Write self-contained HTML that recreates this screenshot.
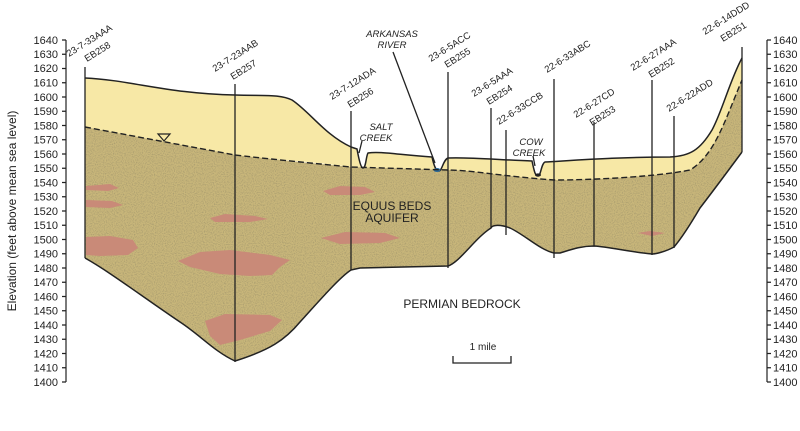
<!DOCTYPE html>
<html><head><meta charset="utf-8"><style>
html,body{margin:0;padding:0;background:#fff;}
svg{display:block;font-family:"Liberation Sans",sans-serif;}
</style></head><body>
<svg width="800" height="431" viewBox="0 0 800 431" xmlns="http://www.w3.org/2000/svg">
<defs>
<filter id="spk" x="0" y="0" width="100%" height="100%">
<feTurbulence type="fractalNoise" baseFrequency="0.9" numOctaves="1" seed="3" result="n"/>
<feColorMatrix in="n" type="matrix" values="0 0 0 0 0.35  0 0 0 0 0.3  0 0 0 0 0.15  0 0 0 -2.2 1.25" result="d"/>
<feComposite in="d" in2="SourceGraphic" operator="in" result="dd"/>
<feMerge><feMergeNode in="SourceGraphic"/><feMergeNode in="dd"/></feMerge>
</filter>
</defs>

<!-- unsaturated zone -->
<path d="M85,78 C130,80 170,94 235,95 C265,96 280,94 292,100 C310,112 325,135 351,147 L357,149 C359,160 361,168 363,168 C366,168 366,156 368,153 C380,151 400,155 432,157 C434,166 436,171 439,171 C442,171 443,160 448,158 C470,157 500,160 532,161 C534,170 535,176 538,176 C541,176 541,164 545,162 C580,160 620,157 670,157 C690,156 700,150 712,130 C722,112 730,80 742,58 L742,80 C725,120 715,155 690,170 C660,176 600,180 554,180 C500,176 470,170 448,170 L351,167 C300,160 250,158 235,155 L85,127 Z" fill="#f7e8a6" stroke="none"/>

<!-- aquifer -->
<path d="M85,127 L235,155 C260,158 300,162 351,167 L448,170 C470,170 500,176 554,180 C600,180 660,176 690,170 C715,155 725,120 742,80 L742,152 C725,175 710,195 700,208 C690,225 680,240 674,247 C665,252 655,254 652,254 C630,252 610,247 594,246 C580,246 570,250 560,253 L554,253 C540,250 525,235 510,228 C500,224 492,225 491,228 C475,238 460,262 448,266 L360,268 L351,270 C340,277 320,300 300,322 C285,340 270,350 235,361 C215,352 200,335 180,322 C140,295 110,272 85,258 Z" fill="#c8b67a" filter="url(#spk)"/>

<!-- clay lenses -->
<g fill="#c98a78">
<path d="M86,186 L110,184 L119,188 L108,191 L86,190 Z"/>
<path d="M86,200 L112,201 L123,205 L110,208 L86,207 Z"/>
<path d="M86,237 L110,236 L133,240 L138,248 L128,255 L100,256 L86,255 Z"/>
<path d="M210,218 L225,214 L255,216 L268,219 L250,222 L215,222 Z"/>
<path d="M178,261 L200,252 L230,250 L270,255 L290,260 L280,267 L272,275 L250,276 L220,274 L190,267 Z"/>
<path d="M205,321 L225,314 L270,315 L282,320 L270,331 L240,340 L220,345 L210,336 Z"/>
<path d="M323,191 L340,186 L365,187 L375,192 L360,195 L330,195 Z"/>
<path d="M321,238 L345,232 L385,233 L400,238 L380,243 L340,244 Z"/>
<path d="M638,233 L650,231 L665,233 L652,236 Z"/>
</g>

<!-- land surface line -->
<path d="M85,78 C130,80 170,94 235,95 C265,96 280,94 292,100 C310,112 325,135 351,147 L357,149 C359,160 361,168 363,168 C366,168 366,156 368,153 C380,151 400,155 432,157 C434,166 436,171 439,171 C442,171 443,160 448,158 C470,157 500,160 532,161 C534,170 535,176 538,176 C541,176 541,164 545,162 C580,160 620,157 670,157 C690,156 700,150 712,130 C722,112 730,80 742,58" fill="none" stroke="#222" stroke-width="1.5"/>
<ellipse cx="437" cy="170" rx="3.5" ry="2" fill="#2a6a9a"/>
<ellipse cx="538" cy="175" rx="3" ry="1.6" fill="#222"/>
<!-- water table -->
<path d="M85,127 L235,155 C260,158 300,162 351,167 L448,170 C470,170 500,176 554,180 C600,180 660,176 690,170 C715,155 725,120 742,80" fill="none" stroke="#222" stroke-width="1.4" stroke-dasharray="6,3"/>
<!-- bedrock line -->
<path d="M742,152 C725,175 710,195 700,208 C690,225 680,240 674,247 C665,252 655,254 652,254 C630,252 610,247 594,246 C580,246 570,250 560,253 L554,253 C540,250 525,235 510,228 C500,224 492,225 491,228 C475,238 460,262 448,266 L360,268 L351,270 C340,277 320,300 300,322 C285,340 270,350 235,361 C215,352 200,335 180,322 C140,295 110,272 85,258" fill="none" stroke="#222" stroke-width="1.5"/>
<!-- water table symbol -->
<path d="M158,134 L170,134 L164,141 Z" fill="none" stroke="#222" stroke-width="1.2"/>

<!-- wells -->
<g stroke="#222" stroke-width="1.3">
<line x1="85" y1="67" x2="85" y2="258"/>
<line x1="235" y1="84" x2="235" y2="362"/>
<line x1="351" y1="111" x2="351" y2="270"/>
<line x1="448" y1="72" x2="448" y2="268"/>
<line x1="491" y1="108" x2="491" y2="228"/>
<line x1="506" y1="130" x2="506" y2="235"/>
<line x1="554" y1="79" x2="554" y2="258"/>
<line x1="594" y1="122" x2="594" y2="246"/>
<line x1="652" y1="80" x2="652" y2="255"/>
<line x1="674" y1="116" x2="674" y2="248"/>
<line x1="742" y1="47" x2="742" y2="152"/>
<line x1="393" y1="52" x2="435" y2="163"/>
<line x1="362" y1="141" x2="359" y2="153"/>
<line x1="533" y1="156" x2="535" y2="166"/>
</g>

<!-- well labels -->
<g font-size="9.5" fill="#222">
<text transform="translate(69,57) rotate(-32)">23-7-33AAA</text>
<text transform="translate(87,62) rotate(-32)">EB258</text>
<text transform="translate(215,72) rotate(-32)">23-7-23AAB</text>
<text transform="translate(233,80) rotate(-32)">EB257</text>
<text transform="translate(332,100) rotate(-32)">23-7-12ADA</text>
<text transform="translate(350,108) rotate(-32)">EB256</text>
<text transform="translate(431,62) rotate(-32)">23-6-5ACC</text>
<text transform="translate(447,68) rotate(-32)">EB255</text>
<text transform="translate(474,97) rotate(-32)">23-6-5AAA</text>
<text transform="translate(489,105) rotate(-32)">EB254</text>
<text transform="translate(499,125) rotate(-32)">22-6-33CCB</text>
<text transform="translate(547,73) rotate(-32)">22-6-33ABC</text>
<text transform="translate(576,118) rotate(-32)">22-6-27CD</text>
<text transform="translate(592,126) rotate(-32)">EB253</text>
<text transform="translate(633,71) rotate(-32)">22-6-27AAA</text>
<text transform="translate(651,78) rotate(-32)">EB252</text>
<text transform="translate(669,112) rotate(-32)">22-6-22ADD</text>
<text transform="translate(705,35) rotate(-32)">22-6-14DDD</text>
<text transform="translate(723,42) rotate(-32)">EB251</text>
</g>
<g font-size="9.5" font-style="italic" fill="#222" text-anchor="middle">
<text x="392" y="37">ARKANSAS</text>
<text x="392" y="48">RIVER</text>
<text x="381" y="130">SALT</text>
<text x="376" y="141">CREEK</text>
<text x="531" y="145">COW</text>
<text x="529" y="156">CREEK</text>
</g>
<g font-size="12" fill="#222" text-anchor="middle">
<text x="392" y="210">EQUUS BEDS</text>
<text x="392" y="222">AQUIFER</text>
<text x="462" y="308">PERMIAN BEDROCK</text>
</g>
<text x="483" y="350" font-size="10" fill="#222" text-anchor="middle">1 mile</text>
<path d="M453,356 L453,363 L511,363 L511,356" fill="none" stroke="#222" stroke-width="1.3"/>

<!-- axes -->
<g stroke="#222" stroke-width="1.2" fill="none">
<path d="M66,40 L66,382 M62,40 H66 M62,54.25 H66 M62,68.5 H66 M62,82.75 H66 M62,97 H66 M62,111.25 H66 M62,125.5 H66 M62,139.75 H66 M62,154 H66 M62,168.25 H66 M62,182.5 H66 M62,196.75 H66 M62,211 H66 M62,225.25 H66 M62,239.5 H66 M62,253.75 H66 M62,268 H66 M62,282.25 H66 M62,296.5 H66 M62,310.75 H66 M62,325 H66 M62,339.25 H66 M62,353.5 H66 M62,367.75 H66 M62,382 H66"/>
<path d="M767,40 L767,382 M767,40 H771 M767,54.25 H771 M767,68.5 H771 M767,82.75 H771 M767,97 H771 M767,111.25 H771 M767,125.5 H771 M767,139.75 H771 M767,154 H771 M767,168.25 H771 M767,182.5 H771 M767,196.75 H771 M767,211 H771 M767,225.25 H771 M767,239.5 H771 M767,253.75 H771 M767,268 H771 M767,282.25 H771 M767,296.5 H771 M767,310.75 H771 M767,325 H771 M767,339.25 H771 M767,353.5 H771 M767,367.75 H771 M767,382 H771"/>
</g>
<g font-size="11" fill="#222" text-anchor="end">
<text x="58" y="44">1640</text><text x="58" y="58">1630</text><text x="58" y="72">1620</text><text x="58" y="86.5">1610</text><text x="58" y="101">1600</text><text x="58" y="115">1590</text><text x="58" y="129.5">1580</text><text x="58" y="143.5">1570</text><text x="58" y="158">1560</text><text x="58" y="172">1550</text><text x="58" y="186.5">1540</text><text x="58" y="200.5">1530</text><text x="58" y="215">1520</text><text x="58" y="229">1510</text><text x="58" y="243.5">1500</text><text x="58" y="257.5">1490</text><text x="58" y="272">1480</text><text x="58" y="286">1470</text><text x="58" y="300.5">1460</text><text x="58" y="314.5">1450</text><text x="58" y="329">1440</text><text x="58" y="343">1430</text><text x="58" y="357.5">1420</text><text x="58" y="371.5">1410</text><text x="58" y="386">1400</text>
</g>
<g font-size="11" fill="#222">
<text x="773" y="44">1640</text><text x="773" y="58">1630</text><text x="773" y="72">1620</text><text x="773" y="86.5">1610</text><text x="773" y="101">1600</text><text x="773" y="115">1590</text><text x="773" y="129.5">1580</text><text x="773" y="143.5">1570</text><text x="773" y="158">1560</text><text x="773" y="172">1550</text><text x="773" y="186.5">1540</text><text x="773" y="200.5">1530</text><text x="773" y="215">1520</text><text x="773" y="229">1510</text><text x="773" y="243.5">1500</text><text x="773" y="257.5">1490</text><text x="773" y="272">1480</text><text x="773" y="286">1470</text><text x="773" y="300.5">1460</text><text x="773" y="314.5">1450</text><text x="773" y="329">1440</text><text x="773" y="343">1430</text><text x="773" y="357.5">1420</text><text x="773" y="371.5">1410</text><text x="773" y="386">1400</text>
</g>
<text transform="translate(16,211) rotate(-90)" font-size="12" fill="#222" text-anchor="middle">Elevation (feet above mean sea level)</text>
</svg>
</body></html>
